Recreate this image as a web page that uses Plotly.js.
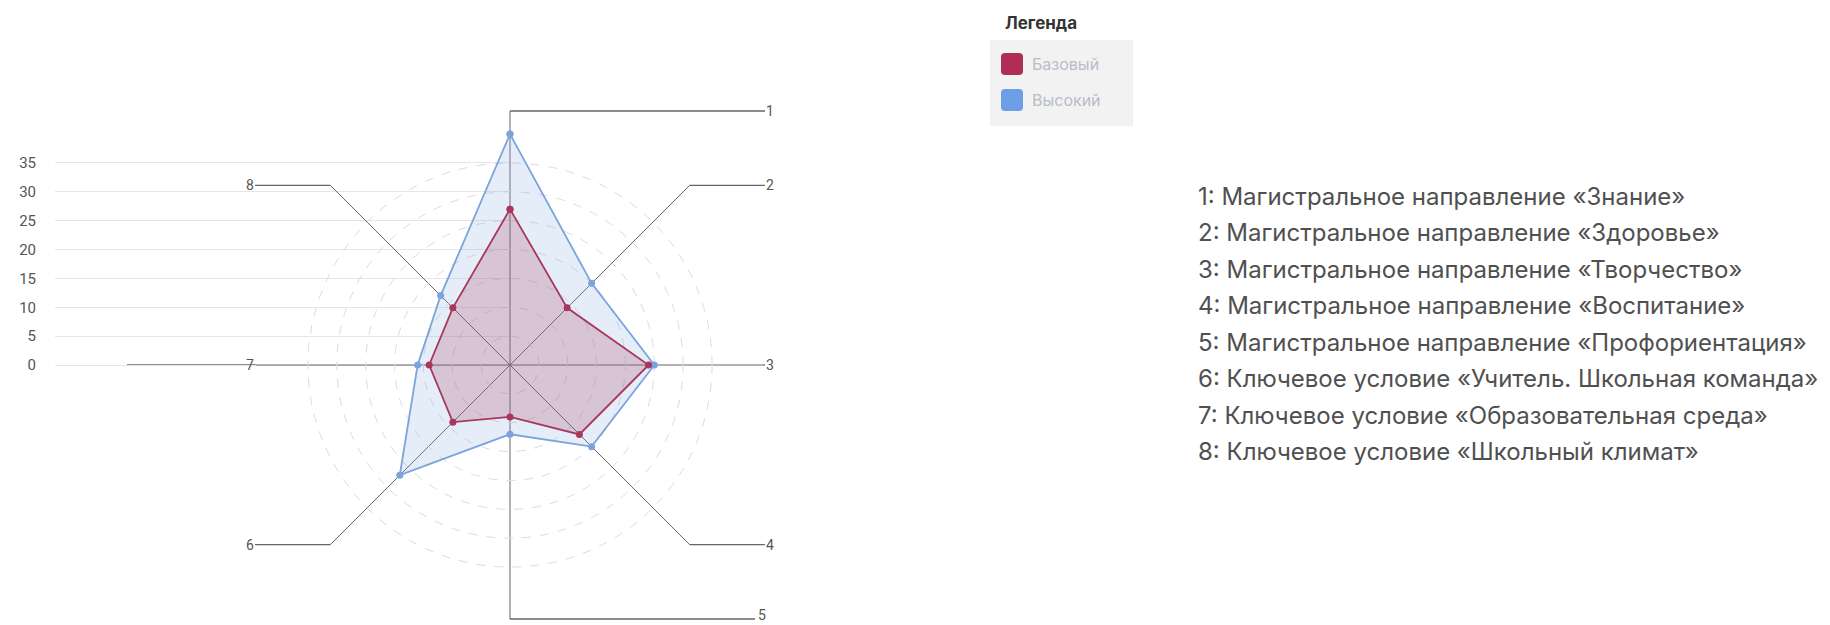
<!DOCTYPE html>
<html>
<head>
<meta charset="utf-8">
<script src="https://cdn.plot.ly/plotly-3.0.1.min.js"></script>
<style>
html,body{margin:0;padding:0;background:#ffffff;}
#chart{width:1830px;height:625px;}
</style>
</head>
<body>
<div id="chart"></div>
<script>
// ---- data ----
const axisLabels = ['1', '2', '3', '4', '5', '6', '7', '8'];
const seriesNames = ['Базовый', 'Высокий'];
const baseValues = [27, 14, 24, 17, 9, 14, 14, 14];
const highValues = [40, 20, 25, 20, 12, 27, 16, 17];
const yTicks = [0, 5, 10, 15, 20, 25, 30, 35];
const ringValues = [5, 10, 15, 20, 25, 30, 35];
const legendTitle = 'Легенда';
const descriptions = [
  '1: Магистральное направление «Знание»',
  '2: Магистральное направление «Здоровье»',
  '3: Магистральное направление «Творчество»',
  '4: Магистральное направление «Воспитание»',
  '5: Магистральное направление «Профориентация»',
  '6: Ключевое условие «Учитель. Школьная команда»',
  '7: Ключевое условие «Образовательная среда»',
  '8: Ключевое условие «Школьный климат»'
];

// ---- geometry / style ----
const W = 1830, H = 625;
const cx = 510, cy = 365, Rpx = 254, rMax = 44;
const px = x => x / W;
const py = y => 1 - y / H;
const baseColor = '#a8375b';
const highColor = '#7ba4dc';
const spokeColor = '#666666';
const textColor = '#555555';
const FONT = 'Roboto, "Open Sans", sans-serif';
const LISTFONT = 'Inter, Roboto, sans-serif';

const polarDomain = { x: [px(cx - Rpx), px(cx + Rpx)], y: [py(cy + Rpx), py(cy - Rpx)] };

function closed(arr) { return arr.concat([arr[0]]); }

const traces = [
  {
    type: 'scatterpolar', name: seriesNames[1],
    r: closed(highValues), theta: closed(axisLabels),
    mode: 'lines+markers', fill: 'toself',
    fillcolor: 'rgba(123,164,220,0.20)',
    line: { color: highColor, width: 1.8 },
    marker: { color: highColor, size: 7 },
    showlegend: false, hoverinfo: 'r+theta'
  },
  {
    type: 'scatterpolar', name: seriesNames[0],
    r: closed(baseValues), theta: closed(axisLabels),
    mode: 'lines+markers', fill: 'toself',
    fillcolor: 'rgba(168,55,91,0.22)',
    line: { color: baseColor, width: 1.8 },
    marker: { color: baseColor, size: 7 },
    showlegend: false, hoverinfo: 'r+theta'
  },
  {
    type: 'scatter', x: [0], y: [0], xaxis: 'x', yaxis: 'y',
    mode: 'markers', marker: { opacity: 0 }, showlegend: false, hoverinfo: 'skip'
  }
];

// ---- leader lines ----
const d = Rpx / Math.SQRT2;
const rightEnd = 765, leftEnd = 255;
const leaders = [
  [cx, cy - Rpx, rightEnd, cy - Rpx],
  [cx + d, cy - d, rightEnd, cy - d],
  [cx + Rpx, cy, rightEnd, cy],
  [cx + d, cy + d, rightEnd, cy + d],
  [cx, cy + Rpx, 755, cy + Rpx],
  [cx - d, cy + d, leftEnd, cy + d],
  [cx - Rpx, cy, 127, cy],
  [cx - d, cy - d, leftEnd, cy - d]
];
const shapes = leaders.map(l => ({
  type: 'line', xref: 'paper', yref: 'paper',
  x0: px(l[0]), y0: py(l[1]), x1: px(l[2]), y1: py(l[3]),
  line: { color: spokeColor, width: 1.4 }, layer: 'below'
}));

// legend box
shapes.push({
  type: 'rect', xref: 'paper', yref: 'paper',
  x0: px(990), x1: px(1133), y0: py(126), y1: py(40),
  fillcolor: '#f2f2f2', line: { width: 0 }, layer: 'below'
});
function roundRectPath(x0, y0, w, h, r) {
  const X = v => px(v), Y = v => py(v);
  return 'M' + X(x0 + r) + ',' + Y(y0) +
    ' L' + X(x0 + w - r) + ',' + Y(y0) +
    ' Q' + X(x0 + w) + ',' + Y(y0) + ' ' + X(x0 + w) + ',' + Y(y0 + r) +
    ' L' + X(x0 + w) + ',' + Y(y0 + h - r) +
    ' Q' + X(x0 + w) + ',' + Y(y0 + h) + ' ' + X(x0 + w - r) + ',' + Y(y0 + h) +
    ' L' + X(x0 + r) + ',' + Y(y0 + h) +
    ' Q' + X(x0) + ',' + Y(y0 + h) + ' ' + X(x0) + ',' + Y(y0 + h - r) +
    ' L' + X(x0) + ',' + Y(y0 + r) +
    ' Q' + X(x0) + ',' + Y(y0) + ' ' + X(x0 + r) + ',' + Y(y0) + ' Z';
}
const legendColors = ['#b02d55', '#6e9fe6'];
const legendRows = [64, 100];
legendRows.forEach((yc, i) => {
  shapes.push({
    type: 'path', xref: 'paper', yref: 'paper',
    path: roundRectPath(1001, yc - 11, 22, 22, 4),
    fillcolor: legendColors[i], line: { width: 0 }
  });
});

// ---- annotations ----
const annotations = [];
const labelPos = [
  [764, cy - Rpx, 'left', 'middle'], [764, cy - d, 'left', 'middle'],
  [764, cy, 'left', 'middle'], [764, cy + d, 'left', 'middle'],
  [756, H, 'left', 'bottom'], [256, cy + d, 'right', 'middle'],
  [256, cy, 'right', 'middle'], [256, cy - d, 'right', 'middle']
];
axisLabels.forEach((lab, i) => {
  annotations.push({
    xref: 'paper', yref: 'paper', x: px(labelPos[i][0]), y: py(labelPos[i][1]),
    xanchor: labelPos[i][2], yanchor: labelPos[i][3], text: lab, showarrow: false,
    font: { family: FONT, size: 14, color: textColor }
  });
});
descriptions.forEach((t, i) => {
  annotations.push({
    xref: 'paper', yref: 'paper', x: px(1196), y: py(196 + i * 36.5),
    xanchor: 'left', yanchor: 'middle', text: t, showarrow: false,
    font: { family: LISTFONT, size: 24, color: '#505050' }
  });
});
annotations.push({
  xref: 'paper', yref: 'paper', x: px(1003), y: py(23),
  xanchor: 'left', yanchor: 'middle', text: '<b>' + legendTitle + '</b>', showarrow: false,
  font: { family: LISTFONT, size: 17, color: '#333333' }
});
seriesNames.forEach((n, i) => {
  annotations.push({
    xref: 'paper', yref: 'paper', x: px(1030), y: py(legendRows[i]),
    xanchor: 'left', yanchor: 'middle', text: n, showarrow: false,
    font: { family: LISTFONT, size: 16, color: '#b8bccb' }
  });
});

const layout = {
  width: W, height: H,
  margin: { l: 0, r: 0, t: 0, b: 0, pad: 0 },
  paper_bgcolor: '#ffffff', plot_bgcolor: 'rgba(0,0,0,0)',
  showlegend: false,
  font: { family: FONT, color: textColor },
  xaxis: {
    domain: [px(55), px(cx)], range: [0, 1],
    showgrid: false, zeroline: false, showticklabels: false, showline: false, ticks: '', fixedrange: true
  },
  yaxis: {
    domain: polarDomain.y, range: [-rMax, rMax],
    tickmode: 'array', tickvals: yTicks, ticktext: yTicks.map(String),
    showgrid: true, gridcolor: '#e6e6e6', gridwidth: 1,
    zeroline: false, showline: false, ticks: '', ticklabelstandoff: 18,
    tickfont: { family: FONT, size: 15, color: textColor }, fixedrange: true
  },
  polar: {
    domain: polarDomain,
    bgcolor: 'rgba(0,0,0,0)',
    radialaxis: {
      range: [0, rMax], tickmode: 'array', tickvals: ringValues,
      showticklabels: false, ticks: '', showline: false,
      gridcolor: '#dcdcdc', griddash: 'dash', gridwidth: 1
    },
    angularaxis: {
      type: 'category', categoryarray: axisLabels,
      direction: 'clockwise', rotation: 90,
      showticklabels: false, ticks: '', showline: false,
      gridcolor: spokeColor, gridwidth: 1.4
    }
  },
  shapes: shapes,
  annotations: annotations
};

Plotly.newPlot('chart', traces, layout, { displayModeBar: false });
</script>
</body>
</html>
